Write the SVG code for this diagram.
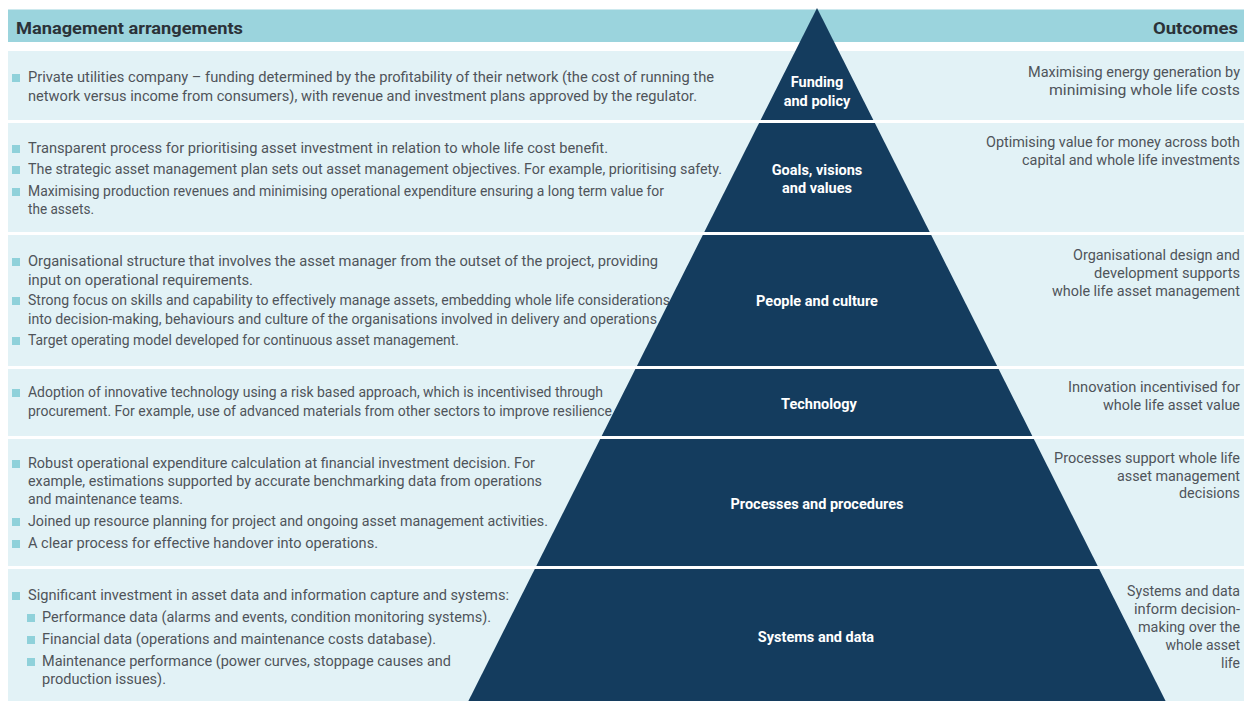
<svg xmlns="http://www.w3.org/2000/svg" width="1244" height="701" viewBox="0 0 1244 701">
<style>
.row{fill:#e2f2f6}
.sep{fill:#ffffff}
.b{fill:#8fd1da}
.t{font-family:Roboto,"Liberation Sans",sans-serif;font-size:14px;fill:#4f545a}
.r{font-family:Roboto,"Liberation Sans",sans-serif;font-size:14px;fill:#4f545a;text-anchor:end}
.h{font-family:Roboto,"Liberation Sans",sans-serif;font-size:17px;font-weight:700;fill:#2b3238}
.p{font-family:Roboto,"Liberation Sans",sans-serif;font-size:14.5px;font-weight:700;fill:#ffffff;text-anchor:middle}
.pyr{fill:#143c5e}
</style>
<rect x="0" y="0" width="1244" height="701" fill="#ffffff"/>
<g id="header">
<rect x="8" y="9.5" width="1236" height="32.5" fill="#9bd4dd"/>
<text class="h" x="16" y="34" textLength="227" lengthAdjust="spacingAndGlyphs">Management arrangements</text>
<text class="h" x="1238" y="34" text-anchor="end" textLength="85" lengthAdjust="spacingAndGlyphs">Outcomes</text>
</g>
<g id="rows">
<rect class="row" x="8" y="51" width="1236" height="69"/>
<rect class="row" x="8" y="123" width="1236" height="109"/>
<rect class="row" x="8" y="235" width="1236" height="131"/>
<rect class="row" x="8" y="369" width="1236" height="67"/>
<rect class="row" x="8" y="439" width="1236" height="127"/>
<rect class="row" x="8" y="569" width="1236" height="132"/>
</g>
<g id="arrangements">
<rect class="b" x="12" y="74" width="8" height="8"/>
<text class="t" x="28" y="82" textLength="686" lengthAdjust="spacingAndGlyphs">Private utilities company – funding determined by the profitability of their network (the cost of running the</text>
<text class="t" x="28" y="101" textLength="669" lengthAdjust="spacingAndGlyphs">network versus income from consumers), with revenue and investment plans approved by the regulator.</text>

<rect class="b" x="12" y="145" width="8" height="8"/>
<text class="t" x="28" y="153" textLength="580" lengthAdjust="spacingAndGlyphs">Transparent process for prioritising asset investment in relation to whole life cost benefit.</text>
<rect class="b" x="12" y="166" width="8" height="8"/>
<text class="t" x="28" y="174" textLength="694" lengthAdjust="spacingAndGlyphs">The strategic asset management plan sets out asset management objectives. For example, prioritising safety.</text>
<rect class="b" x="12" y="188" width="8" height="8"/>
<text class="t" x="28" y="196" textLength="636" lengthAdjust="spacingAndGlyphs">Maximising production revenues and minimising operational expenditure ensuring a long term value for</text>
<text class="t" x="28" y="214" textLength="66" lengthAdjust="spacingAndGlyphs">the assets.</text>

<rect class="b" x="12" y="258" width="8" height="8"/>
<text class="t" x="28" y="266" textLength="630" lengthAdjust="spacingAndGlyphs">Organisational structure that involves the asset manager from the outset of the project, providing</text>
<text class="t" x="28" y="285" textLength="225" lengthAdjust="spacingAndGlyphs">input on operational requirements.</text>
<rect class="b" x="12" y="297" width="8" height="8"/>
<text class="t" x="28" y="305" textLength="642" lengthAdjust="spacingAndGlyphs">Strong focus on skills and capability to effectively manage assets, embedding whole life considerations</text>
<text class="t" x="28" y="324" textLength="629" lengthAdjust="spacingAndGlyphs">into decision-making, behaviours and culture of the organisations involved in delivery and operations</text>
<rect class="b" x="12" y="337" width="8" height="8"/>
<text class="t" x="28" y="345" textLength="431" lengthAdjust="spacingAndGlyphs">Target operating model developed for continuous asset management.</text>

<rect class="b" x="12" y="389" width="8" height="8"/>
<text class="t" x="28" y="397" textLength="575" lengthAdjust="spacingAndGlyphs">Adoption of innovative technology using a risk based approach, which is incentivised through</text>
<text class="t" x="28" y="416" textLength="584" lengthAdjust="spacingAndGlyphs">procurement. For example, use of advanced materials from other sectors to improve resilience</text>

<rect class="b" x="12" y="460" width="8" height="8"/>
<text class="t" x="28" y="468" textLength="507" lengthAdjust="spacingAndGlyphs">Robust operational expenditure calculation at financial investment decision. For</text>
<text class="t" x="28" y="486" textLength="514" lengthAdjust="spacingAndGlyphs">example, estimations supported by accurate benchmarking data from operations</text>
<text class="t" x="28" y="504" textLength="155" lengthAdjust="spacingAndGlyphs">and maintenance teams.</text>
<rect class="b" x="12" y="518" width="8" height="8"/>
<text class="t" x="28" y="526" textLength="520" lengthAdjust="spacingAndGlyphs">Joined up resource planning for project and ongoing asset management activities.</text>
<rect class="b" x="12" y="540" width="8" height="8"/>
<text class="t" x="28" y="548" textLength="350" lengthAdjust="spacingAndGlyphs">A clear process for effective handover into operations.</text>

<rect class="b" x="12" y="592" width="8" height="8"/>
<text class="t" x="28" y="600" textLength="481" lengthAdjust="spacingAndGlyphs">Significant investment in asset data and information capture and systems:</text>
<rect class="b" x="27" y="614" width="8" height="8"/>
<text class="t" x="42" y="622" textLength="449" lengthAdjust="spacingAndGlyphs">Performance data (alarms and events, condition monitoring systems).</text>
<rect class="b" x="27" y="636" width="8" height="8"/>
<text class="t" x="42" y="644" textLength="394" lengthAdjust="spacingAndGlyphs">Financial data (operations and maintenance costs database).</text>
<rect class="b" x="27" y="658" width="8" height="8"/>
<text class="t" x="42" y="666" textLength="409" lengthAdjust="spacingAndGlyphs">Maintenance performance (power curves, stoppage causes and</text>
<text class="t" x="42" y="684" textLength="124" lengthAdjust="spacingAndGlyphs">production issues).</text>
</g>
<g id="outcomes">
<text class="r" x="1240" y="77" textLength="212" lengthAdjust="spacingAndGlyphs">Maximising energy generation by</text>
<text class="r" x="1240" y="95" textLength="191" lengthAdjust="spacingAndGlyphs">minimising whole life costs</text>
<text class="r" x="1240" y="147" textLength="254" lengthAdjust="spacingAndGlyphs">Optimising value for money across both</text>
<text class="r" x="1240" y="165" textLength="218" lengthAdjust="spacingAndGlyphs">capital and whole life investments</text>
<text class="r" x="1240" y="260" textLength="167" lengthAdjust="spacingAndGlyphs">Organisational design and</text>
<text class="r" x="1240" y="278" textLength="146" lengthAdjust="spacingAndGlyphs">development supports</text>
<text class="r" x="1240" y="296" textLength="188" lengthAdjust="spacingAndGlyphs">whole life asset management</text>
<text class="r" x="1240" y="392" textLength="172" lengthAdjust="spacingAndGlyphs">Innovation incentivised for</text>
<text class="r" x="1240" y="410" textLength="137" lengthAdjust="spacingAndGlyphs">whole life asset value</text>
<text class="r" x="1240" y="463" textLength="186" lengthAdjust="spacingAndGlyphs">Processes support whole life</text>
<text class="r" x="1240" y="481" textLength="123" lengthAdjust="spacingAndGlyphs">asset management</text>
<text class="r" x="1240" y="498" textLength="61" lengthAdjust="spacingAndGlyphs">decisions</text>
<text class="r" x="1240" y="596" textLength="113" lengthAdjust="spacingAndGlyphs">Systems and data</text>
<text class="r" x="1240" y="614" textLength="106" lengthAdjust="spacingAndGlyphs">inform decision-</text>
<text class="r" x="1240" y="632" textLength="102" lengthAdjust="spacingAndGlyphs">making over the</text>
<text class="r" x="1240" y="650">whole asset</text>
<text class="r" x="1240" y="668">life</text>
</g>
<g id="pyramid">
<polygon class="pyr" points="817,8 468.4,701 1165.6,701"/>
</g>
<g id="separators">
<rect class="sep" x="8" y="120" width="1236" height="3"/>
<rect class="sep" x="8" y="232" width="1236" height="3"/>
<rect class="sep" x="8" y="366" width="1236" height="3"/>
<rect class="sep" x="8" y="436" width="1236" height="3"/>
<rect class="sep" x="8" y="566" width="1236" height="3"/>
</g>
<g id="level-funding"><text class="p" x="817" y="87">Funding</text><text class="p" x="817" y="106">and policy</text></g>
<g id="level-goals"><text class="p" x="817" y="175">Goals, visions</text><text class="p" x="817" y="193">and values</text></g>
<g id="level-people"><text class="p" x="817" y="306">People and culture</text></g>
<g id="level-technology"><text class="p" x="819" y="409">Technology</text></g>
<g id="level-processes"><text class="p" x="817" y="509">Processes and procedures</text></g>
<g id="level-systems"><text class="p" x="816" y="642">Systems and data</text></g>
</svg>
